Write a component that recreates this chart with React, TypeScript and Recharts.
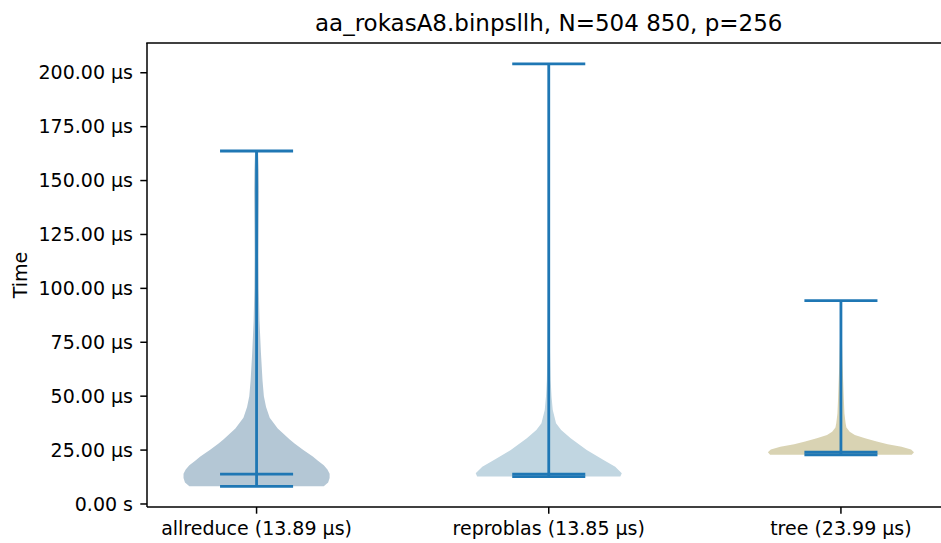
import React from 'react';
import { ComposedChart, Scatter, XAxis, YAxis, Customized } from 'recharts';

const categories = ['allreduce', 'reproblas', 'tree'];
const positions = [1, 2, 3];
const medians = [13.89, 13.85, 23.99];
const mins = [8.2, 12.7, 22.8];
const maxs = [163.7, 204.1, 94.3];
const yTicks = [0, 25, 50, 75, 100, 125, 150, 175, 200];
const bodyColors = ['#b4c7d5', '#c1d6e1', '#d9d3b3'];
const lineColor = '#1f77b4';

const allreduceT = [8.2, 10, 12, 14, 16, 18, 20, 22, 25, 28, 30, 35, 40, 45, 50, 57, 70, 85, 100, 115, 130, 145, 155, 163.7];
const allreduceW = [0.92, 0.98, 1.0, 1.0, 0.97, 0.92, 0.84, 0.77, 0.64, 0.52, 0.45, 0.29, 0.18, 0.13, 0.1, 0.082, 0.06, 0.04, 0.03, 0.027, 0.03, 0.034, 0.03, 0.02];

const reproblasT = [12.7, 14.2, 17.3, 20.4, 25, 30.5, 34.3, 37.4, 43.6, 49.8, 57.5, 70, 90, 120, 160, 204.1];
const reproblasW = [0.98, 1.0, 0.91, 0.75, 0.52, 0.3, 0.17, 0.1, 0.055, 0.038, 0.026, 0.018, 0.012, 0.008, 0.005, 0.004];

const treeT = [22.8, 24.0, 25.3, 26.6, 27.7, 29.0, 30.5, 32, 33.5, 35.5, 37.4, 42, 48.2, 57.5, 65, 73, 80, 94.3];
const treeW = [0.97, 1.0, 0.96, 0.83, 0.64, 0.49, 0.33, 0.19, 0.12, 0.075, 0.064, 0.048, 0.04, 0.03, 0.022, 0.016, 0.01, 0.006];

const profilesT = [allreduceT, reproblasT, treeT];
const profilesW = [allreduceW, reproblasW, treeW];

const BODY_HALF = 0.25;
const CAP_HALF = 0.125;

function violinPoints(pos: number, T: number[], W: number[]) {
  const right = T.map((t, i) => ({ x: pos + BODY_HALF * W[i], y: t }));
  const left = T.map((t, i) => ({ x: pos - BODY_HALF * W[i], y: t })).reverse();
  return [...right, ...left];
}

function segments(i: number) {
  const p = positions[i];
  return [
    [{ x: p, y: mins[i] }, { x: p, y: maxs[i] }],
    [{ x: p - CAP_HALF, y: mins[i] }, { x: p + CAP_HALF, y: mins[i] }],
    [{ x: p - CAP_HALF, y: maxs[i] }, { x: p + CAP_HALF, y: maxs[i] }],
    [{ x: p - CAP_HALF, y: medians[i] }, { x: p + CAP_HALF, y: medians[i] }],
  ];
}

const xLabels = categories.map((c, i) => `${c} (${medians[i].toFixed(2)} µs)`);
const fmtY = (v: number) => (v === 0 ? '0.00 s' : `${v.toFixed(2)} µs`);

const FONT = 'DejaVu Sans';
const Empty = () => <g />;

export default function App() {
  return (
    <div style={{ position: 'absolute', left: 0, top: 0, width: 941, height: 543, overflow: 'hidden', background: '#fff' }}>
      <ComposedChart width={960} height={543} margin={{ top: 43, right: 9.5, bottom: 0, left: 0 }}>
        <XAxis
          type="number"
          dataKey="x"
          domain={[0.625, 3.375]}
          allowDataOverflow
          ticks={positions}
          interval={0}
          tickFormatter={(v: number) => xLabels[positions.indexOf(v)] ?? ''}
          height={36}
          tickSize={6.7}
          tickMargin={8}
          axisLine={{ stroke: '#000', strokeWidth: 1.5 }}
          tickLine={{ stroke: '#000', strokeWidth: 1.5 }}
          tick={{ fill: '#000', fontSize: 19, fontFamily: FONT }}
        />
        <YAxis
          type="number"
          dataKey="y"
          domain={[-1.4, 213.8]}
          allowDataOverflow
          ticks={yTicks}
          interval={0}
          tickFormatter={fmtY}
          width={147}
          tickSize={6.7}
          tickMargin={7.3}
          axisLine={{ stroke: '#000', strokeWidth: 1.5 }}
          tickLine={{ stroke: '#000', strokeWidth: 1.5 }}
          tick={{ fill: '#000', fontSize: 19, fontFamily: FONT }}
        />
        {positions.map((p, i) => (
          <Scatter
            key={`body-${i}`}
            data={violinPoints(p, profilesT[i], profilesW[i])}
            shape={Empty}
            line={{ fill: bodyColors[i], stroke: 'none' }}
            isAnimationActive={false}
          />
        ))}
        {positions.map((p, i) =>
          segments(i).map((seg, j) => (
            <Scatter
              key={`seg-${i}-${j}`}
              data={seg}
              shape={Empty}
              line={{ stroke: lineColor, strokeWidth: 2.8, fill: 'none' }}
              isAnimationActive={false}
            />
          ))
        )}
        <Customized
          component={() => (
            <g>
              <line x1={146.25} y1={43} x2={951} y2={43} stroke="#000" strokeWidth={1.5} />
              <line x1={950.5} y1={43} x2={950.5} y2={507} stroke="#000" strokeWidth={1.5} />
              <text x={548.7} y={31} textAnchor="middle" fontSize={23} fontFamily={FONT} fill="#000">
                aa_rokasA8.binpsllh, N=504 850, p=256
              </text>
              <text
                x={26.5}
                y={275}
                textAnchor="middle"
                fontSize={19}
                fontFamily={FONT}
                fill="#000"
                transform="rotate(-90 26.5 275)"
              >
                Time
              </text>
            </g>
          )}
        />
      </ComposedChart>
    </div>
  );
}
